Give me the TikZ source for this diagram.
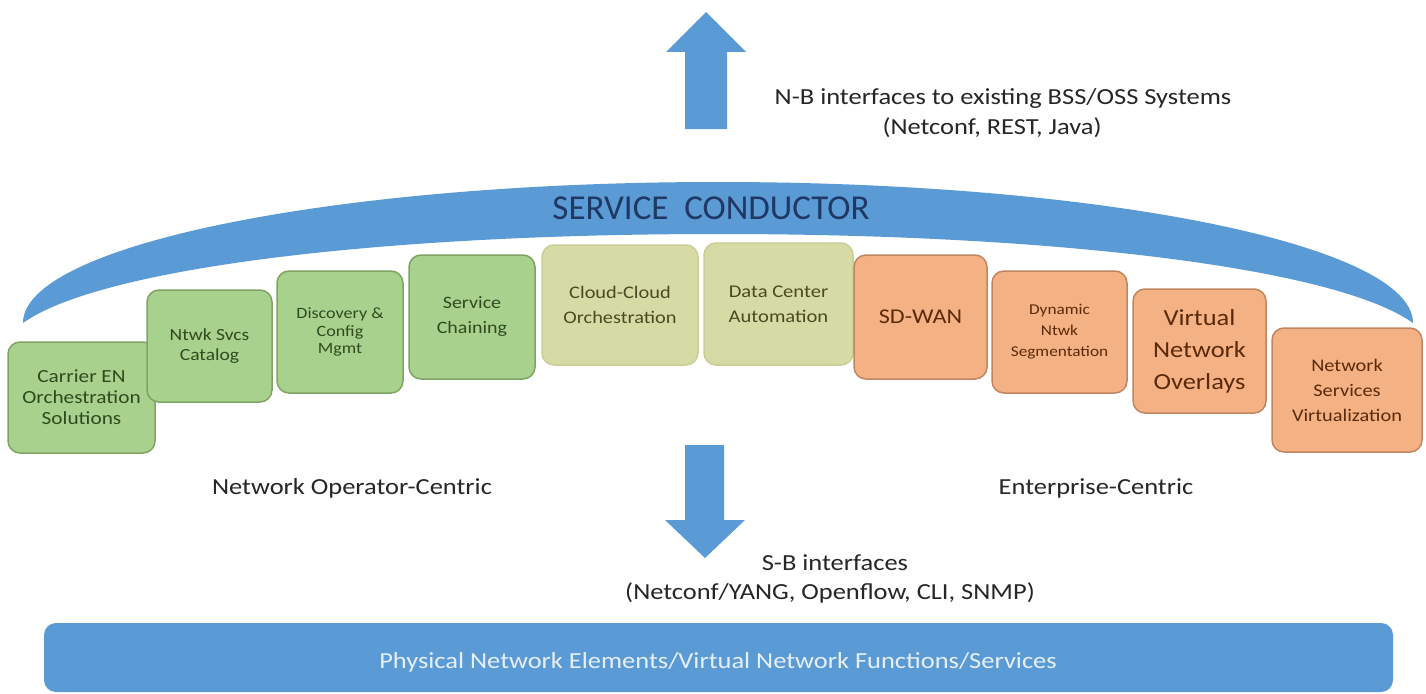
\documentclass[tikz,border=0pt]{standalone}
\usepackage{fontspec}
\setmainfont{Carlito}[FakeStretch=1.15]
\newfontfamily\titlefont{Carlito}
\definecolor{ablue}{HTML}{5B9BD5}
\definecolor{navy}{HTML}{1F3864}
\definecolor{gfill}{HTML}{A9D18E}
\definecolor{gline}{HTML}{7FA363}
\definecolor{gtext}{HTML}{2F4A1E}
\definecolor{ofill}{HTML}{D6DBA5}
\definecolor{oline}{HTML}{C8CE95}
\definecolor{otext}{HTML}{4A4A22}
\definecolor{rfill}{HTML}{F4B183}
\definecolor{rline}{HTML}{C08662}
\definecolor{rtext}{HTML}{5A2A0A}
\definecolor{bartext}{HTML}{E6EFF9}
\definecolor{lbl}{HTML}{262626}
\tikzset{
  boxbase/.style={rounded corners=12pt, line width=1.5pt, inner sep=0pt, align=center},
  gbox/.style={boxbase, fill=gfill, draw=gline, text=gtext},
  obox/.style={boxbase, fill=ofill, draw=oline, text=otext},
  rbox/.style={boxbase, fill=rfill, draw=rline, text=rtext},
  lbltext/.style={inner sep=0pt, text=lbl, font=\fontsize{23}{28}\selectfont},
  blockarrow/.style={fill=ablue, draw=none}
}
\begin{document}
\begin{tikzpicture}[x=1pt,y=-1pt]
\useasboundingbox (0,0) rectangle (1426,693);
\fill[white] (0,0) rectangle (1426,693);

% up arrow
\path[blockarrow] (706,12) -- (746,52) -- (727,52) -- (727,129) -- (685,129) -- (685,52) -- (666,52) -- cycle;
\node[lbltext, anchor=center] (nb1) at (1003,98) {N-B interfaces to existing BSS/OSS Systems};
\node[lbltext, anchor=center] (nb2) at (992,128) {(Netconf, REST, Java)};

% service conductor crescent
\path[fill=ablue] (23,323) arc[start angle=180, end angle=0, x radius=695pt, y radius=141pt]
  .. controls (1336,268) and (1056,234) .. (718,234)
  .. controls (380,234) and (100,268) .. (23,323) -- cycle;
\node[inner sep=0pt, text=navy, font=\titlefont\fontsize{35}{40}\selectfont] (sc) at (711,208) {SERVICE\ \ CONDUCTOR};

% boxes
\node[gbox, minimum width=147pt, minimum height=111pt, font=\fontsize{18.5}{21}\selectfont] (carrier) at (81.5,397.5) {Carrier EN\\Orchestration\\Solutions};
\node[gbox, minimum width=125pt, minimum height=112pt, font=\fontsize{17}{20}\selectfont] (ntwk) at (209.5,346) {Ntwk Svcs\\Catalog};
\node[gbox, minimum width=126pt, minimum height=122pt, font=\fontsize{15.7}{17.5}\selectfont] (disc) at (340,332) {Discovery \&\\Config\\Mgmt};
\node[gbox, minimum width=126pt, minimum height=124pt, font=\fontsize{17.4}{25}\selectfont] (chain) at (472,317) {Service\\Chaining};
\node[obox, minimum width=156pt, minimum height=120pt, font=\fontsize{17.7}{25}\selectfont] (cloud) at (620,305) {Cloud-Cloud\\Orchestration};
\node[obox, minimum width=149pt, minimum height=122pt, font=\fontsize{17.9}{25}\selectfont] (dc) at (778.5,304) {Data Center\\Automation};
\node[rbox, minimum width=133pt, minimum height=124pt, font=\fontsize{21}{25}\selectfont] (sdwan) at (920.5,317) {SD-WAN};
\node[rbox, minimum width=135pt, minimum height=122pt, font=\fontsize{15}{21}\selectfont] (dyn) at (1059.5,332) {Dynamic\\Ntwk\\Segmentation};
\node[rbox, minimum width=133pt, minimum height=124pt, font=\fontsize{23}{32}\selectfont] (vno) at (1199.5,351) {Virtual\\Network\\Overlays};
\node[rbox, minimum width=150pt, minimum height=124pt, font=\fontsize{17.7}{25}\selectfont] (nsv) at (1347,390) {Network\\Services\\Virtualization};

% side labels
\node[lbltext] (noc) at (352,488) {Network Operator-Centric};
\node[lbltext] (ec) at (1096,488) {Enterprise-Centric};

% down arrow
\path[blockarrow] (685,445) -- (724,445) -- (724,520) -- (745,520) -- (705,558) -- (665,520) -- (685,520) -- cycle;
\node[lbltext] (sb1) at (835,563) {S-B interfaces};
\node[lbltext] (sb2) at (830,593) {(Netconf/YANG, Openflow, CLI, SNMP)};

% bottom bar
\path[fill=ablue, rounded corners=12pt] (44,623) rectangle (1393,692);
\node[inner sep=0pt, text=bartext, font=\fontsize{23}{28}\selectfont] (bar) at (718,662) {Physical Network Elements/Virtual Network Functions/Services};
\end{tikzpicture}
\end{document}
